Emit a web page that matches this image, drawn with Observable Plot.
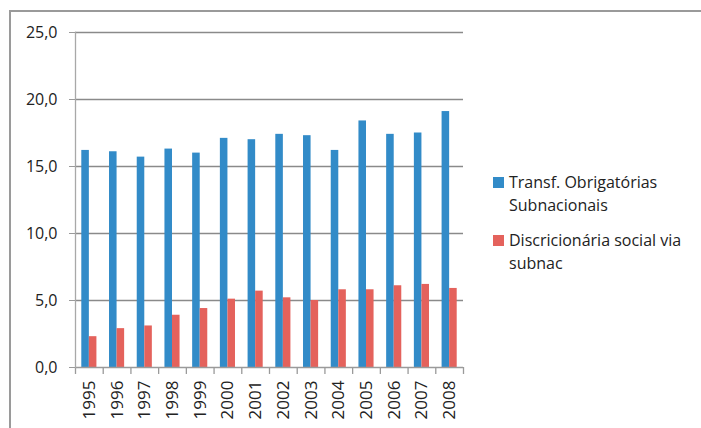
<!DOCTYPE html>
<html>
<head>
<meta charset="utf-8">
<script src="https://cdn.jsdelivr.net/npm/d3@7"></script>
<script src="https://cdn.jsdelivr.net/npm/@observablehq/plot@0.6"></script>
<style>
  html, body { margin: 0; padding: 0; background: #fff; }
  #wrap { position: relative; width: 701px; height: 428px; overflow: hidden; font-family: "Open Sans", sans-serif; }
  #border { position: absolute; left: 9px; top: 10px; width: 700px; height: 430px; border-left: 2px solid #9a9a9a; border-top: 2px solid #9a9a9a; }
  #chart { position: absolute; left: 0; top: 0; }
  .leg { position: absolute; left: 493px; font-size: 16px; line-height: 23px; color: #222; }
  .leg .sw { position: absolute; left: 0; top: 6px; width: 11px; height: 11px; }
  .leg .tx { position: absolute; left: 16px; top: 0; white-space: nowrap; }
</style>
</head>
<body>
<div id="wrap">
  <div id="border"></div>
  <div id="chart"></div>
  <div id="legend"></div>
</div>
<script>
const years = ["1995","1996","1997","1998","1999","2000","2001","2002","2003","2004","2005","2006","2007","2008"];
const transfObrigatorias = [16.2, 16.1, 15.7, 16.3, 16.0, 17.1, 17.0, 17.4, 17.3, 16.2, 18.4, 17.4, 17.5, 19.1];
const discricionariaSocial = [2.3, 2.9, 3.1, 3.9, 4.4, 5.1, 5.7, 5.2, 5.0, 5.8, 5.8, 6.1, 6.2, 5.9];
const seriesNames = ["Transf. Obrigatórias\nSubnacionais", "Discricionária social via\nsubnac"];
const seriesColors = ["#328bc8", "#e4625c"];
const yTicks = [0, 5, 10, 15, 20, 25];

const W = 701, H = 428, ML = 75, MR = 238, MT = 32, MB = 61;
const bw = (W - ML - MR) / years.length;
const outerInset = 6.3;

const rows = years.map((y, i) => ({year: y, a: transfObrigatorias[i], b: discricionariaSocial[i]}));
const fmt = d => d.toFixed(1).replace(".", ",");

const chart = Plot.plot({
  width: W, height: H,
  marginLeft: ML, marginRight: MR, marginTop: MT, marginBottom: MB,
  style: {fontFamily: "'Open Sans', sans-serif", background: "transparent", overflow: "visible"},
  x: {domain: years, padding: 0, round: false},
  y: {domain: [0, 25], ticks: yTicks},
  marks: [
    Plot.ruleY(yTicks.filter(d => d > 0), {stroke: "#8a8a8a", strokeWidth: 1.3}),
    Plot.barY(rows, {x: "year", y: "a", fill: seriesColors[0], insetLeft: outerInset, insetRight: bw / 2}),
    Plot.barY(rows, {x: "year", y: "b", fill: seriesColors[1], insetLeft: bw / 2, insetRight: outerInset}),
    Plot.ruleY([0], {stroke: "#9a9a9a", strokeWidth: 1.5}),
    Plot.ruleX(years, {x: d => d, dx: -bw / 2, y1: 0, y2: -0.52, stroke: "#9a9a9a", strokeWidth: 1.3}),
    Plot.ruleX([years[years.length - 1]], {x: d => d, dx: bw / 2, y1: 0, y2: -0.52, stroke: "#9a9a9a", strokeWidth: 1.3}),
    Plot.frame({anchor: "left", stroke: "#a8a8a8", strokeWidth: 1.3}),
    Plot.axisY({ticks: yTicks, tickSize: 6, tickPadding: 12, tickFormat: fmt, fontSize: 16, stroke: "#9a9a9a", fill: "#222", label: null}),
    Plot.axisX({tickSize: 0, tickRotate: -90, tickPadding: 13, fontSize: 17, fill: "#222", label: null})
  ]
});
document.getElementById("chart").appendChild(chart);

const legend = document.getElementById("legend");
const legTops = [171, 229];
seriesNames.forEach((name, i) => {
  const item = document.createElement("div");
  item.className = "leg";
  item.style.top = legTops[i] + "px";
  const sw = document.createElement("div");
  sw.className = "sw";
  sw.style.background = seriesColors[i];
  const tx = document.createElement("div");
  tx.className = "tx";
  tx.innerHTML = name.split("\n").join("<br>");
  item.appendChild(sw);
  item.appendChild(tx);
  legend.appendChild(item);
});
</script>
</body>
</html>
